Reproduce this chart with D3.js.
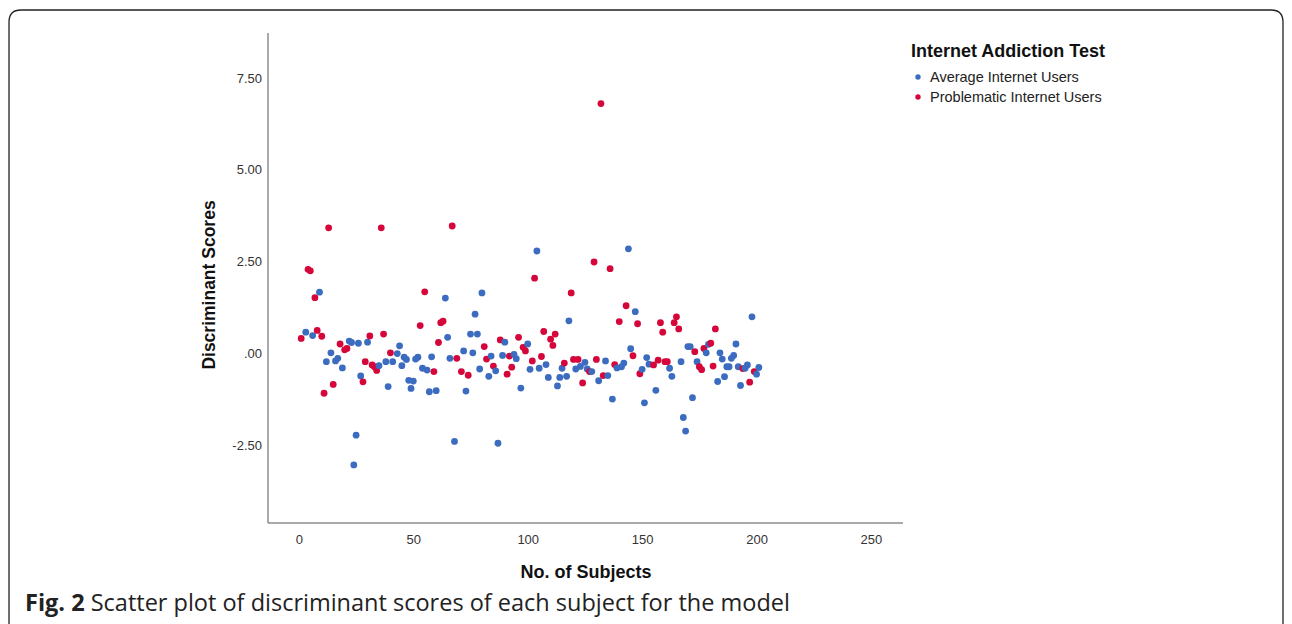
<!DOCTYPE html>
<html>
<head>
<meta charset="utf-8">
<script src="https://cdn.jsdelivr.net/npm/d3@7"></script>
<style>
  body { margin: 0; background: #fff; }
  svg { display: block; }
</style>
</head>
<body>
<svg id="chart" width="1292" height="624"></svg>
<script>
// subject numbers, scores and group (A = average, P = problematic)
var subjects = [1,3,4,5,6,7,8,9,10,11,12,13,14,15,16,17,18,19,20,21,22,23,24,25,26,27,28,29,30,
	31,32,33,34,35,36,37,38,39,40,41,43,44,45,46,47,48,49,50,51,52,53,54,55,56,57,58,59,60,
	61,62,63,64,65,66,67,68,69,71,72,73,74,75,76,77,78,79,80,81,82,83,84,85,86,87,88,89,90,
	91,92,93,94,95,96,97,98,99,100,101,102,103,104,105,106,107,108,109,110,111,112,113,114,115,
	116,117,118,119,120,121,122,123,124,125,126,127,128,129,130,131,132,133,134,135,136,137,138,
	139,140,141,142,143,144,145,146,147,148,149,150,151,152,153,155,156,157,158,159,160,161,162,
	163,164,165,166,167,168,169,170,171,172,173,174,175,176,177,178,179,180,181,182,183,184,185,
	186,187,188,189,190,191,192,193,194,195,196,197,198,199,200,201];
var scores = [0.41,0.58,2.29,2.25,0.49,1.52,0.63,1.67,0.47,-1.08,-0.22,3.42,0.02,-0.84,-0.20,-0.13,0.26,-0.39,0.10,0.14,0.34,0.30,-3.03,-2.22,0.28,-0.61,-0.77,-0.22,0.31,
	0.48,-0.31,-0.36,-0.46,-0.33,3.42,0.53,-0.22,-0.90,0.02,-0.22,0.00,0.21,-0.33,-0.10,-0.16,-0.73,-0.95,-0.75,-0.15,-0.10,0.76,-0.40,1.68,-0.45,-1.04,-0.09,-0.49,-1.01,
	0.30,0.84,0.88,1.51,0.44,-0.13,3.47,-2.39,-0.13,-0.49,0.07,-1.02,-0.59,0.53,0.02,1.07,0.53,-0.42,1.65,0.19,-0.15,-0.62,-0.07,-0.34,-0.47,-2.44,0.37,-0.05,0.31,
	-0.56,-0.07,-0.37,-0.02,-0.14,0.44,-0.94,0.17,0.07,0.26,-0.43,-0.20,2.05,2.79,-0.40,-0.08,0.60,-0.30,-0.65,0.39,0.22,0.53,-0.88,-0.65,-0.40,
	-0.26,-0.62,0.89,1.65,-0.16,-0.42,-0.16,-0.35,-0.80,-0.24,-0.42,-0.49,-0.49,2.49,-0.16,-0.74,6.80,-0.60,-0.20,-0.60,2.31,-1.24,-0.30,
	-0.39,0.87,-0.36,-0.26,1.30,2.85,0.13,-0.06,1.14,0.81,-0.55,-0.43,-1.34,-0.11,-0.29,-0.31,-1.00,-0.18,0.84,0.58,-0.22,-0.22,-0.40,
	-0.62,0.84,1.00,0.67,-0.22,-1.74,-2.11,0.19,0.19,-1.20,0.05,-0.22,-0.36,-0.44,0.14,0.02,0.25,0.28,-0.34,0.67,-0.76,0.02,-0.15,
	-0.63,-0.36,-0.36,-0.13,-0.05,0.26,-0.36,-0.87,-0.41,-0.40,-0.31,-0.78,1.00,-0.49,-0.56,-0.38];
var groups = [
	"PAPPAPPAPPAPAPAAPAPPAAAAAAPPA",
	"PPPPAPPAAPAAAAAAAAAAAPAPAAAPA",
	"PPPAAAPAPPAAPAAAAAAPPAAPAAPAA",
	"PPPAAPAPPAAPPAAPPAAPPPAAA",
	"PAAPPAPAPAAPAPPAPPAAPAP",
	"APAAPAAPAPPAAAAPAPPPPPA",
	"APPPAAAAAAPAPPPAAPPPAAA",
	"AAAAAAAAPAAPAPAA"
].join("").split("");
var groupNames = ["Average Internet Users", "Problematic Internet Users"];
var groupColors = ["#3b6cc0", "#d4063a"];
var xTicks = [0, 50, 100, 150, 200, 250];
var yTicks = [-2.5, 0, 2.5, 5, 7.5];

var svg = d3.select('#chart');

// figure frame, open at the bottom
svg.append('path')
	.attr('d', 'M9,624 L9,22 Q9,10 21,10 L1271,10 Q1283,10 1283,22 L1283,624')
	.attr('fill', 'none')
	.attr('stroke', '#222')
	.attr('stroke-width', 1.3);

var x = d3.scaleLinear().domain([-13.5, 264]).range([268, 903]);
var y = d3.scaleLinear().domain([-4.61, 8.72]).range([523, 33]);

var axisColor = '#8c8c8c';
svg.append('line').attr('x1', 268).attr('x2', 268).attr('y1', 33).attr('y2', 523)
	.attr('stroke', axisColor).attr('stroke-width', 1.5);
svg.append('line').attr('x1', 268).attr('x2', 903).attr('y1', 523).attr('y2', 523)
	.attr('stroke', axisColor).attr('stroke-width', 1.5);

// SPSS style labels: ".00" for zero and a plain hyphen for negatives
function spssFormat(d) {
	if (d === 0) return '.00';
	return (d < 0 ? '-' : '') + Math.abs(d).toFixed(2);
}

var xAxis = svg.append('g').attr('transform', 'translate(0,523)')
	.call(d3.axisBottom(x).tickValues(xTicks).tickSize(0).tickPadding(12));
var yAxis = svg.append('g').attr('transform', 'translate(268,0)')
	.call(d3.axisLeft(y).tickValues(yTicks).tickSize(0).tickPadding(6).tickFormat(spssFormat));
[xAxis, yAxis].forEach(function(a) {
	a.select('.domain').remove();
	a.selectAll('text').attr('font-family', 'Liberation Sans, Arial, sans-serif')
		.attr('font-size', 13).attr('fill', '#333');
});

svg.append('text').attr('x', 586).attr('y', 578).attr('text-anchor', 'middle')
	.attr('font-family', 'Liberation Sans, Arial, sans-serif').attr('font-weight', 'bold')
	.attr('font-size', 18).attr('fill', '#111').text('No. of Subjects');
svg.append('text').attr('transform', 'translate(215,285) rotate(-90)').attr('text-anchor', 'middle')
	.attr('font-family', 'Liberation Sans, Arial, sans-serif').attr('font-weight', 'bold')
	.attr('font-size', 17.5).attr('fill', '#111').text('Discriminant Scores');

var points = subjects.map(function(s, i) {
	return {subject: s, score: scores[i], group: groups[i] === 'P' ? 1 : 0};
});
svg.append('g').selectAll('circle').data(points).enter().append('circle')
	.attr('cx', function(d) { return x(d.subject); })
	.attr('cy', function(d) { return y(d.score); })
	.attr('r', 3.4)
	.attr('fill', function(d) { return groupColors[d.group]; });

// legend
var legend = svg.append('g').attr('font-family', 'Liberation Sans, Arial, sans-serif');
legend.append('text').attr('x', 911).attr('y', 57).attr('font-weight', 'bold')
	.attr('font-size', 18).attr('fill', '#111').text('Internet Addiction Test');
groupNames.forEach(function(name, i) {
	legend.append('circle').attr('cx', 918).attr('cy', 77 + i * 20).attr('r', 2.7)
		.attr('fill', groupColors[i]);
	legend.append('text').attr('x', 930).attr('y', 82 + i * 20).attr('font-size', 14.5)
		.attr('fill', '#222').text(name);
});

// caption
var caption = svg.append('text').attr('x', 25).attr('y', 611)
	.attr('font-family', 'Open Sans, Noto Sans, sans-serif').attr('font-size', 23.5).attr('fill', '#222');
caption.append('tspan').attr('font-weight', 'bold').text('Fig. 2');
caption.append('tspan').text(' Scatter plot of discriminant scores of each subject for the model');
</script>
</body>
</html>
